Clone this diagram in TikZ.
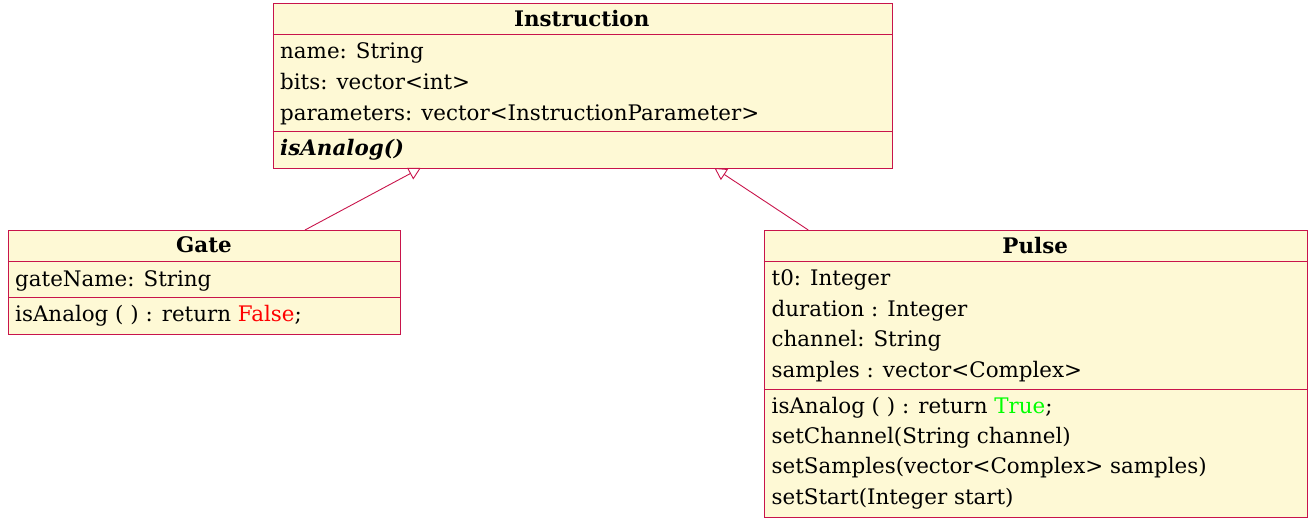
\documentclass[tikz,border=0pt]{standalone}
\usepackage{fontspec}
\setmainfont{DejaVu Serif}
\usepackage{tikz}
\usetikzlibrary{arrows.meta}
\definecolor{umlborder}{HTML}{C8144B}
\definecolor{umlfill}{HTML}{FEF9D5}
\begin{document}
\begin{tikzpicture}[x=1pt,y=-1pt,
		classbox/.style={draw=umlborder,fill=umlfill,line width=0.9pt,rectangle,inner sep=0pt,anchor=north west},
		sepline/.style={draw=umlborder,line width=0.9pt},
		member/.style={anchor=base west,inner sep=0pt,font=\fontsize{21.4}{25}\selectfont},
		title/.style={anchor=base,inner sep=0pt,font=\fontsize{21.4}{25}\selectfont\bfseries},
		extends/.style={draw=umlborder,line width=0.9pt,-{Triangle[open,length=12pt,width=13pt]}}]
			\useasboundingbox (0,0) rectangle (1314,519);
			\node[classbox,minimum width=619pt,minimum height=165pt] (instr) at (272.5,2.7) {};
			\node[classbox,minimum width=392pt,minimum height=104pt] (gate) at (8,230) {};
			\node[classbox,minimum width=543.5pt,minimum height=287pt] (pulse) at (763.5,230) {};
			\draw[sepline] (272.5,34)-- (891.5,34);
			\draw[sepline] (272.5,131.7)-- (891.5,131.7);
			\draw[sepline] (8,261.5)-- (400,261.5);
			\draw[sepline] (8,297.7)-- (400,297.7);
			\draw[sepline] (763.5,261.3)-- (1307,261.3);
			\draw[sepline] (763.5,389)-- (1307,389);
			\node[title] (instrT) at (581.7,26.7) {Instruction};
			\node[member] (instrA1) at (280,59) {name: String};
			\node[member] (instrA2) at (280,89.5) {bits: vector<int>};
			\node[member] (instrA3) at (280,120) {parameters: vector<InstructionParameter>};
			\node[member] (instrM1) at (280,155) {\textbf{\textit{isAnalog()}}};
			\node[title] (gateT) at (204,252.5) {Gate};
			\node[member] (gateA1) at (15,286) {gateName: String};
			\node[member] (gateM1) at (15,321) {isAnalog ( ) : return \textcolor{red}{False};};
			\node[title] (pulseT) at (1035.2,253) {Pulse};
			\node[member] (pulseA1) at (771.5,285) {t0: Integer};
			\node[member] (pulseA2) at (771.5,316) {duration : Integer};
			\node[member] (pulseA3) at (771.5,346.5) {channel: String};
			\node[member] (pulseA4) at (771.5,377) {samples : vector<Complex>};
			\node[member] (pulseM1) at (771.5,413) {isAnalog ( ) : return \textcolor{green}{True};};
			\node[member] (pulseM2) at (771.5,443) {setChannel(String channel)};
			\node[member] (pulseM3) at (771.5,473.5) {setSamples(vector<Complex> samples)};
			\node[member] (pulseM4) at (771.5,504) {setStart(Integer start)};
			\coordinate (gateUp) at (305,230);
			\coordinate (pulseUp) at (808.3,230);
			\coordinate (instrGate) at (420.7,168);
			\coordinate (instrPulse) at (714.5,168);
			\draw[extends] (gateUp)-- (instrGate);
			\draw[extends] (pulseUp)-- (instrPulse);
		\end{tikzpicture}
\end{document}
